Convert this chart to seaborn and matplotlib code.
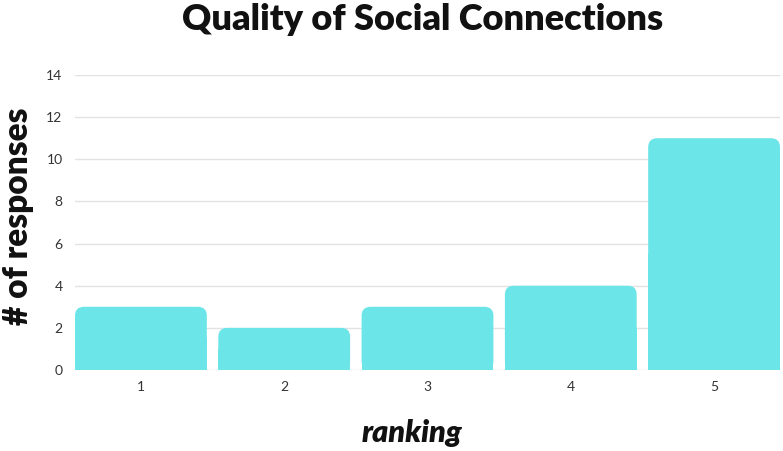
import matplotlib
matplotlib.use("Agg")
import matplotlib.pyplot as plt
from matplotlib.patches import FancyBboxPatch, Rectangle
import seaborn as sns
import pandas as pd

rankings = ["1", "2", "3", "4", "5"]
responses = [3, 2, 3, 4, 11]
y_ticks = [0, 2, 4, 6, 8, 10, 12, 14]

bar_color = "#6ce5e8"

sns.set_theme(style="white")
plt.rcParams["font.family"] = ["Lato", "DejaVu Sans"]

df = pd.DataFrame({"ranking": rankings, "responses": responses})

fig = plt.figure(figsize=(7.83, 4.51), dpi=100)
ax = fig.add_axes([75 / 783, 1 - 370 / 451, 705 / 783, 295 / 451])

sns.barplot(data=df, x="ranking", y="responses", color=bar_color,
            width=0.92, saturation=1, ax=ax, zorder=2)

ax.set_xlim(-0.46, 4.46)
ax.set_ylim(0, 14)

# swap the plain bars for ones with rounded top corners
x_per_px = (4.46 + 0.46) / 705
y_per_px = 14 / 295
radius_px = 9
for p in list(ax.patches):
    x, y = p.get_x(), p.get_y()
    w, h = p.get_width(), p.get_height()
    p.remove()
    r = radius_px * x_per_px
    ax.add_patch(FancyBboxPatch((x, y), w, h,
                                boxstyle=f"round,pad=0,rounding_size={r}",
                                mutation_aspect=y_per_px / x_per_px,
                                facecolor=bar_color, edgecolor="none", zorder=2))
    ax.add_patch(Rectangle((x, y), w, h / 2, facecolor=bar_color,
                           edgecolor="none", zorder=2))

ax.set_yticks(y_ticks)
ax.yaxis.grid(True, color="#e2e2e2", linewidth=1, zorder=0)
ax.xaxis.grid(False)
for s in ax.spines.values():
    s.set_visible(False)
ax.tick_params(axis="both", length=0, labelsize=10, labelcolor="#333333")
ax.tick_params(axis="y", pad=9)
ax.tick_params(axis="x", pad=8)

ax.set_xlabel("ranking", fontsize=22, fontweight="heavy", style="italic",
              color="#111111")
ax.xaxis.set_label_coords((412 - 75) / 705, (370 - 433) / 295)
ax.xaxis.label.set_va("center")
ax.set_ylabel("# of responses", fontsize=24, fontweight="heavy",
              color="#111111")
ax.yaxis.set_label_coords((18 - 75) / 705, (370 - 216) / 295)
ax.yaxis.label.set_va("center")
fig.text(423 / 783, 1 - 19 / 451, "Quality of Social Connections", ha="center",
         va="center", fontsize=26, fontweight="heavy", color="#111111")

fig.savefig("out.png", dpi=100)
